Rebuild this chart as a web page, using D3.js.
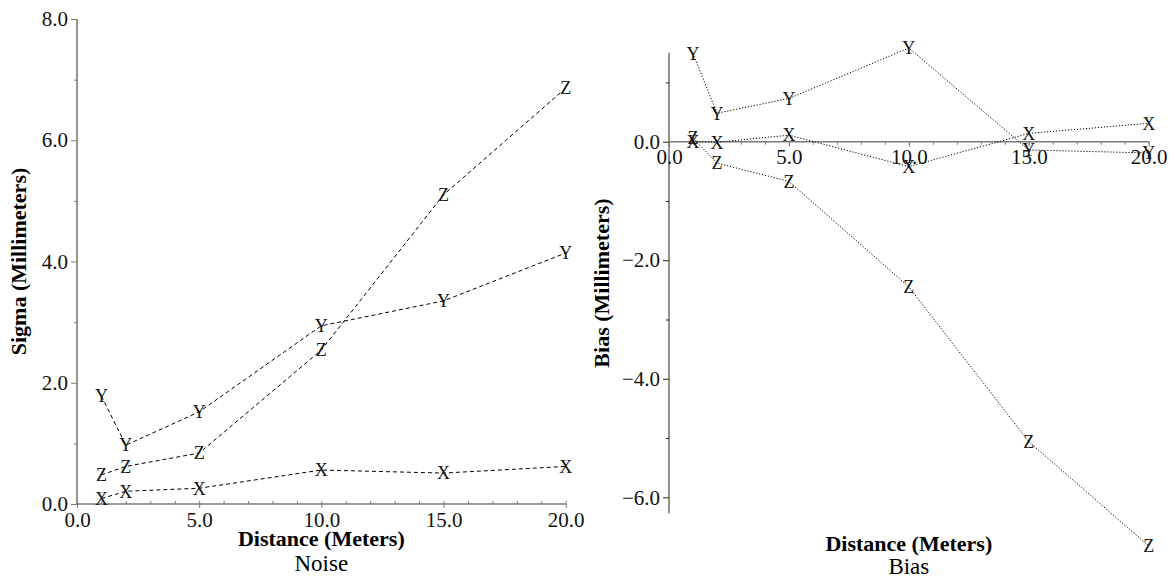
<!DOCTYPE html>
<html>
<head>
<meta charset="utf-8">
<script src="https://d3js.org/d3.v7.min.js"></script>
<style>
  body { margin: 0; background: #fff; }
  svg, text { font-family: "Liberation Serif", "Times New Roman", Times, serif; }
</style>
</head>
<body>
<script>
// distances (meters)
var distances = [1, 2, 5, 10, 15, 20];

// noise (sigma, mm)
var noiseX = [0.09, 0.21, 0.26, 0.56, 0.51, 0.62];
var noiseY = [1.78, 0.97, 1.52, 2.94, 3.35, 4.14];
var noiseZ = [0.48, 0.62, 0.84, 2.54, 5.10, 6.86];

// bias (mm)
var biasX = [0.00, -0.01, 0.11, -0.42, 0.14, 0.31];
var biasY = [1.49, 0.48, 0.73, 1.58, -0.14, -0.19];
var biasZ = [0.06, -0.36, -0.67, -2.45, -5.06, -6.82];

var seriesNames = ["X", "Y", "Z"];

// ticks
var xTicks = [0, 5, 10, 15, 20];
var xMinor = d3.range(0, 21, 1);
var noiseYTicks = [0, 2, 4, 6, 8];
var noiseYMinor = [1, 3, 5, 7];
var biasYTicks = [-6, -4, -2, 0];
var biasYMinor = [-5, -3, -1, 1];

var fmt = d3.format(".1f");
var axisGray = "#7a7a7a";

var svg = d3.select("body")
  .append("svg")
  .attr("width", 1174)
  .attr("height", 579);

function drawPanel(opt) {
  var x = d3.scaleLinear().domain([0, 20]).range(opt.xRange);
  var y = d3.scaleLinear().domain(opt.yDomain).range(opt.yRange);
  var g = svg.append("g");

  // y axis: minor then major
  var yMinor = g.append("g")
    .attr("transform", "translate(" + x(0) + ",0)")
    .call(d3.axisLeft(y).tickValues(opt.yMinor).tickSize(3).tickFormat(""));
  yMinor.select(".domain").remove();

  var yAx = g.append("g")
    .attr("transform", "translate(" + x(0) + ",0)")
    .call(d3.axisLeft(y).tickValues(opt.yTicks).tickSize(6).tickPadding(3).tickFormat(fmt));
  yAx.select(".domain").remove();
  yAx.selectAll("text").attr("font-size", 21).attr("fill", "#111");

  g.selectAll(".tick line").attr("stroke", opt.yColor);

  g.append("line")
    .attr("x1", x(0)).attr("x2", x(0))
    .attr("y1", y(opt.yExtent[0])).attr("y2", y(opt.yExtent[1]))
    .attr("stroke", opt.yColor)
    .attr("stroke-width", opt.yWidth);

  // x axis
  var xMinorAx = g.append("g")
    .attr("transform", "translate(0," + y(0) + ")")
    .call(d3.axisBottom(x).tickValues(xMinor).tickSize(opt.xMinorSize).tickFormat(""));
  xMinorAx.select(".domain").remove();

  var xAx = g.append("g")
    .attr("transform", "translate(0," + y(0) + ")")
    .call(d3.axisBottom(x).tickValues(xTicks).tickSize(opt.xMajorSize).tickPadding(opt.xPad).tickFormat(fmt));
  xAx.select(".domain").remove();
  xAx.selectAll("text").attr("font-size", 21).attr("fill", "#111");

  xMinorAx.selectAll("line").attr("stroke", axisGray);
  xAx.selectAll("line").attr("stroke", axisGray);

  g.append("line")
    .attr("x1", x(0)).attr("x2", x(20))
    .attr("y1", y(0)).attr("y2", y(0))
    .attr("stroke", axisGray)
    .attr("stroke-width", 1.6);

  // series
  var line = d3.line()
    .x(function(d) { return x(d.d); })
    .y(function(d) { return y(d.v); });

  opt.series.forEach(function(vals, i) {
    var pts = distances.map(function(dd, j) { return { d: dd, v: vals[j] }; });
    g.append("path")
      .datum(pts)
      .attr("d", line)
      .attr("fill", "none")
      .attr("stroke", "#000")
      .attr("stroke-width", 1)
      .attr("stroke-dasharray", opt.dash);
    g.selectAll(".m" + i)
      .data(pts)
      .enter()
      .append("text")
      .attr("x", function(d) { return x(d.d); })
      .attr("y", function(d) { return y(d.v); })
      .attr("dy", "0.35em")
      .attr("text-anchor", "middle")
      .attr("font-size", 18)
      .attr("fill", "#111")
      .text(seriesNames[i]);
  });

  // titles
  var xc = (opt.xRange[0] + opt.xRange[1]) / 2;
  g.append("text")
    .attr("x", xc).attr("y", opt.xTitleY)
    .attr("text-anchor", "middle")
    .attr("font-size", 22)
    .attr("font-weight", "bold")
    .text("Distance (Meters)");
  g.append("text")
    .attr("x", xc).attr("y", opt.subTitleY)
    .attr("text-anchor", "middle")
    .attr("font-size", 23)
    .text(opt.subtitle);
  var yc = (y(opt.yExtent[0]) + y(opt.yExtent[1])) / 2;
  g.append("text")
    .attr("transform", "translate(" + opt.yTitleX + "," + yc + ") rotate(-90)")
    .attr("text-anchor", "middle")
    .attr("font-size", 22)
    .attr("font-weight", "bold")
    .text(opt.yTitle);
}

drawPanel({
  xRange: [77, 565.7],
  yDomain: [0, 8],
  yRange: [504, 19],
  yExtent: [0, 8],
  yTicks: noiseYTicks,
  yMinor: noiseYMinor,
  yColor: axisGray,
  yWidth: 1.6,
  xMinorSize: -3,
  xMajorSize: 4,
  xPad: 4,
  dash: "4,3",
  series: [noiseX, noiseY, noiseZ],
  xTitleY: 546,
  subTitleY: 571,
  subtitle: "Noise",
  yTitle: "Sigma (Millimeters)",
  yTitleX: 26
});

drawPanel({
  xRange: [669, 1148.7],
  yDomain: [-6, 0],
  yRange: [497.3, 141.7],
  yExtent: [-6.27, 1.5],
  yTicks: biasYTicks,
  yMinor: biasYMinor,
  yColor: "#222",
  yWidth: 1,
  xMinorSize: 3,
  xMajorSize: 5,
  xPad: 2,
  dash: "1.2,1.8",
  series: [biasX, biasY, biasZ],
  xTitleY: 551,
  subTitleY: 574,
  subtitle: "Bias",
  yTitle: "Bias (Millimeters)",
  yTitleX: 609
});
</script>
</body>
</html>
